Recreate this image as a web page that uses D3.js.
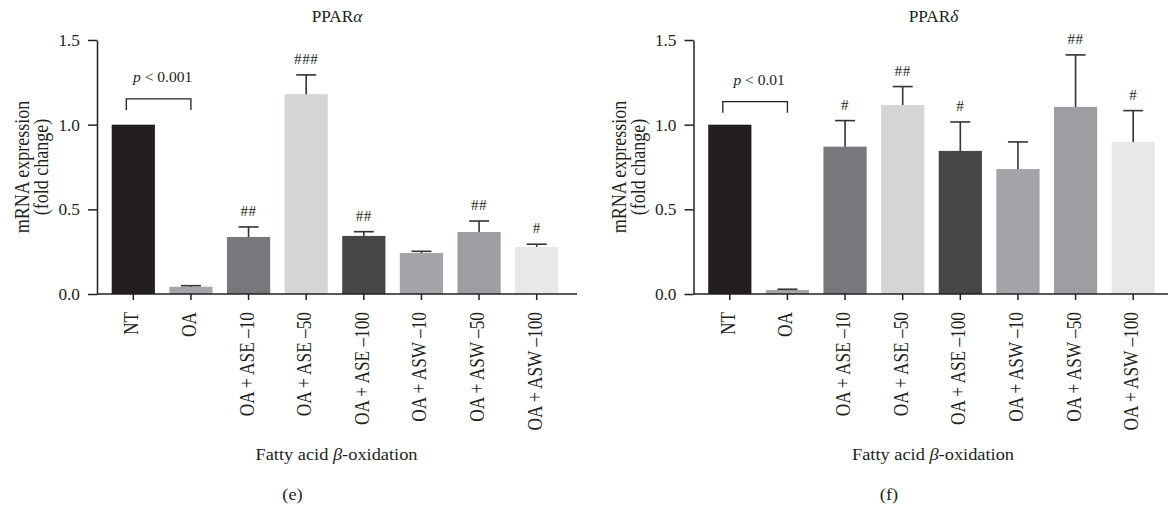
<!DOCTYPE html>
<html>
<head>
<meta charset="utf-8">
<script src="https://cdn.jsdelivr.net/npm/d3@7/dist/d3.min.js"></script>
<style>
  body { margin: 0; background: #fff; }
  svg text { font-family: "Liberation Serif", "Times New Roman", serif; fill: #231f20; }
</style>
</head>
<body>
<svg id="chart" width="1168" height="508"></svg>
<script>
// groups on the x axis (same for both panels)
const groups = ["NT", "OA", "OA + ASE \u201310", "OA + ASE \u201350", "OA + ASE \u2013100",
  "OA + ASW \u201310", "OA + ASW \u201350", "OA + ASW \u2013100"];
const barColors = ["#231f20", "#a5a6a9", "#77787b", "#d4d5d7", "#454648", "#a3a4a7", "#9d9ea1", "#e8e8ea"];
const yTicks = [0, 0.5, 1.0, 1.5];

// (e) PPARα
const alphaMean = [1.0, 0.043, 0.337, 1.18, 0.343, 0.242, 0.366, 0.278];
const alphaErr = [0, 0.006, 0.059, 0.114, 0.025, 0.01, 0.065, 0.016];
const alphaMarks = ["", "", "##", "###", "##", "", "##", "#"];

// (f) PPARδ
const deltaMean = [1.0, 0.024, 0.87, 1.116, 0.845, 0.738, 1.105, 0.898];
const deltaErr = [0, 0.004, 0.154, 0.109, 0.171, 0.16, 0.307, 0.185];
const deltaMarks = ["", "", "#", "##", "#", "", "##", "#"];

const panels = [
  { tag: "(e)", greek: "\u03b1", means: alphaMean, errs: alphaErr, marks: alphaMarks,
    pText: "< 0.001", bracketTop: 1.152, bracketLeg: 1.087, dx: 0 },
  { tag: "(f)", greek: "\u03b4", means: deltaMean, errs: deltaErr, marks: deltaMarks,
    pText: "< 0.01", bracketTop: 1.136, bracketLeg: 1.071, dx: 596.5 }
];

const ink = "#231f20";
const SX = 1.08;  // horizontal text is a little wide in the source figure
const SXR = 1.15; // rotated text glyphs too
const axisX = 97, axisEnd = 577, plotTop = 40, plotBottom = 294;

const svg = d3.select("#chart");
svg.append("rect").attr("width", 1168).attr("height", 508).attr("fill", "#fff");

const y = d3.scaleLinear().domain([0, 1.5]).range([plotBottom, plotTop]);
const x = d3.scaleBand().domain(groups).range([axisX, 573])
  .paddingInner(0.25).paddingOuter(0.255);

function place(sel, px, py, rot) {
  return sel.attr("transform", rot
    ? `translate(${px},${py}) scale(${SXR},1) rotate(-90)`
    : `translate(${px},${py}) scale(${SX},1)`);
}

panels.forEach(p => {
  const g = svg.append("g").attr("transform", `translate(${p.dx},0)`);

  // bars
  g.selectAll(".bar").data(groups).enter().append("rect")
    .attr("class", "bar")
    .attr("x", d => x(d))
    .attr("width", x.bandwidth())
    .attr("y", (d, i) => y(p.means[i]))
    .attr("height", (d, i) => plotBottom - y(p.means[i]))
    .attr("fill", (d, i) => barColors[i]);

  // upper error whiskers
  const eb = g.selectAll(".err").data(groups.filter((d, i) => p.errs[i] > 0)).enter()
    .append("g").attr("class", "err")
    .attr("stroke", "#333").attr("stroke-width", 1.6);
  eb.append("line")
    .attr("x1", d => x(d) + x.bandwidth() / 2).attr("x2", d => x(d) + x.bandwidth() / 2)
    .attr("y1", d => y(p.means[groups.indexOf(d)]))
    .attr("y2", d => { const i = groups.indexOf(d); return y(p.means[i] + p.errs[i]); });
  eb.append("line")
    .attr("x1", d => x(d) + x.bandwidth() / 2 - 10).attr("x2", d => x(d) + x.bandwidth() / 2 + 10)
    .attr("y1", d => { const i = groups.indexOf(d); return y(p.means[i] + p.errs[i]); })
    .attr("y2", d => { const i = groups.indexOf(d); return y(p.means[i] + p.errs[i]); });

  // significance marks
  groups.forEach((d, i) => {
    if (!p.marks[i]) return;
    place(g.append("text"), x(d) + x.bandwidth() / 2, y(p.means[i] + p.errs[i]) - 11)
      .attr("text-anchor", "middle")
      .style("font-size", "14px")
      .style("letter-spacing", "0.5px")
      .text(p.marks[i]);
  });

  // bracket NT vs OA
  const bx1 = x(groups[0]) + x.bandwidth() / 2 - 7;
  const bx2 = x(groups[1]) + x.bandwidth() / 2;
  g.append("path")
    .attr("d", `M${bx1},${y(p.bracketLeg)}V${y(p.bracketTop)}H${bx2}V${y(p.bracketLeg)}`)
    .attr("fill", "none").attr("stroke", ink).attr("stroke-width", 1.3);
  const pt = place(g.append("text"), (bx1 + bx2) / 2 + 4, y(p.bracketTop) - 17)
    .attr("text-anchor", "middle").style("font-size", "14.4px");
  pt.append("tspan").style("font-style", "italic").text("p");
  pt.append("tspan").text(" " + p.pText);

  // x axis
  const xAxis = g.append("g").attr("transform", `translate(0,${plotBottom})`)
    .style("color", ink)
    .call(d3.axisBottom(x).tickSize(6).tickSizeOuter(0));
  xAxis.select(".domain").remove();
  xAxis.selectAll("line").attr("stroke-width", 1.5);
  xAxis.append("line").attr("x1", axisX).attr("x2", axisEnd)
    .attr("stroke", ink).attr("stroke-width", 1.5);
  xAxis.selectAll(".tick text")
    .attr("x", 0).attr("y", 0).attr("dy", 0)
    .attr("text-anchor", "end")
    .attr("transform", `translate(5,18) scale(${SXR},1) rotate(-90)`)
    .style("font-size", "17.3px");

  // y axis
  const yAxis = g.append("g").attr("transform", `translate(${axisX},0)`)
    .style("color", ink)
    .call(d3.axisLeft(y).tickValues(yTicks).tickFormat(d3.format(".1f")).tickSize(9).tickSizeOuter(0));
  yAxis.selectAll("line, path").attr("stroke-width", 1.5);
  yAxis.selectAll(".tick text")
    .attr("x", 0).attr("dy", 0)
    .attr("transform", `translate(-17,5.5) scale(${SX},1)`)
    .style("font-size", "16px");

  // y title (two lines)
  const midY = (plotTop + plotBottom) / 2;
  place(g.append("text"), axisX - 68, midY, true)
    .attr("text-anchor", "middle").style("font-size", "18px").text("mRNA expression");
  place(g.append("text"), axisX - 49, midY, true)
    .attr("text-anchor", "middle").style("font-size", "18px").text("(fold change)");

  // panel title
  const tt = place(g.append("text"), 337, 22).attr("text-anchor", "middle").style("font-size", "16px");
  tt.append("tspan").text("PPAR");
  tt.append("tspan").style("font-style", "italic").text(p.greek);

  // x title
  const xt = place(g.append("text"), 336.5, 460).attr("text-anchor", "middle").style("font-size", "17px");
  xt.append("tspan").text("Fatty acid ");
  xt.append("tspan").style("font-style", "italic").text("\u03b2");
  xt.append("tspan").text("-oxidation");

  // panel tag
  place(g.append("text"), 292.5, 500, false)
    .attr("text-anchor", "middle").style("font-size", "17px").text(p.tag);
});
</script>
</body>
</html>
